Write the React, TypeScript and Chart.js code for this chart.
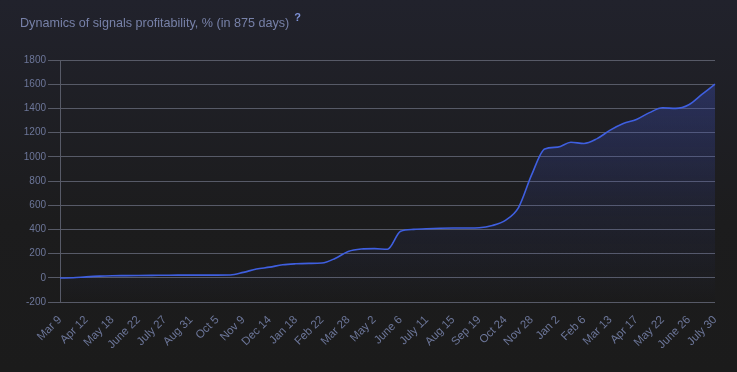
import React, { useEffect, useRef } from "react";
import { Chart, registerables } from "chart.js";

Chart.register(...registerables);

// Date labels: even entries are the axis tick labels, odd entries are mid-period points
const dates = [
  "Mar 9", "Mar 26", "Apr 12", "Apr 30", "May 18", "June 4", "June 22", "July 9",
  "July 27", "Aug 13", "Aug 31", "Sep 17", "Oct 5", "Oct 22", "Nov 9", "Nov 26",
  "Dec 14", "Dec 31", "Jan 18", "Feb 4", "Feb 22", "Mar 11", "Mar 28", "Apr 14",
  "May 2", "May 19", "June 6", "June 23", "July 11", "July 28", "Aug 15", "Sep 1",
  "Sep 19", "Oct 6", "Oct 24", "Nov 10", "Nov 28", "Dec 15", "Jan 2", "Jan 19",
  "Feb 6", "Feb 23", "Mar 13", "Mar 30", "Apr 17", "May 4", "May 22", "June 8",
  "June 26", "July 13", "July 30",
];

// Profitability, %
const profit = [
  -2, 0, 8, 14, 17, 18, 19, 20,
  21, 22, 22, 22, 22, 23, 45, 72,
  88, 108, 116, 119, 122, 160, 218, 238,
  241, 236, 384, 400, 405, 409, 411, 412,
  414, 432, 475, 580, 850, 1065, 1080, 1120,
  1110, 1150, 1220, 1275, 1308, 1365, 1405, 1400,
  1430, 1515, 1600,
];

const yMin = -200;
const yMax = 1800;
const yStep = 200;

const TICK_COLOR = "#6c7699";
const GRID_COLOR = "#575a67";
const FONT_FAMILY = "'Liberation Sans', Arial, sans-serif";

export default function App() {
  const ref = useRef<HTMLCanvasElement>(null);

  useEffect(() => {
    document.body.style.margin = "0";
    document.body.style.background = "linear-gradient(to bottom, #21222c 0%, #1c1c1d 60%, #1b1b1b 100%)";
    document.body.style.minHeight = "372px";
    const canvas = ref.current!;
    const chart = new Chart(canvas, {
      type: "line",
      data: {
        labels: dates,
        datasets: [
          {
            data: profit,
            borderColor: "#3f5fe0",
            borderWidth: 1.6,
            pointRadius: 0,
            pointHoverRadius: 0,
            cubicInterpolationMode: "monotone",
            fill: "start",
            backgroundColor: (c: any) => {
              const ch = c.chart;
              const area = ch.chartArea;
              if (!area) return "rgba(0,0,0,0)";
              const g = ch.ctx.createLinearGradient(0, area.top, 0, area.bottom);
              g.addColorStop(0, "rgba(62,80,190,0.40)");
              g.addColorStop(0.6, "rgba(62,80,190,0.12)");
              g.addColorStop(1, "rgba(62,80,190,0.0)");
              return g;
            },
          },
        ],
      },
      options: {
        animation: false,
        responsive: false,
        maintainAspectRatio: false,
        layout: { padding: { top: 60, right: 22, left: 0, bottom: 0 } },
        plugins: {
          legend: { display: false },
          tooltip: { enabled: false },
          title: { display: false },
        },
        scales: {
          x: {
            grid: { display: false, drawTicks: true, tickLength: 8 },
            border: { display: false },
            ticks: {
              autoSkip: false,
              maxRotation: 45,
              minRotation: 45,
              padding: 3,
              color: TICK_COLOR,
              font: { family: FONT_FAMILY, size: 11.5 },
              callback: (_v: any, i: number) => (i % 2 === 0 ? dates[i] : null),
            },
            afterFit: (s: any) => {
              s.height = 70;
            },
          },
          y: {
            min: yMin,
            max: yMax,
            ticks: {
              stepSize: yStep,
              padding: 2,
              color: TICK_COLOR,
              font: { family: FONT_FAMILY, size: 10 },
              callback: (v: any) => String(v),
            },
            grid: { color: GRID_COLOR, tickLength: 12, lineWidth: 1 },
            border: { color: GRID_COLOR, width: 1 },
            afterFit: (s: any) => {
              s.width = 60;
            },
          },
        },
      },
    });
    return () => chart.destroy();
  }, []);

  return (
    <div style={{ position: "relative", width: 737, height: 372 }}>
      <canvas ref={ref} width={737} height={372} style={{ display: "block", width: 737, height: 372 }} />
      <div
        style={{
          position: "absolute",
          left: 20,
          top: 15,
          fontFamily: FONT_FAMILY,
          fontSize: 12.6,
          color: "#7781a8",
          whiteSpace: "nowrap",
          lineHeight: "16px",
        }}
      >
        Dynamics of signals profitability, % (in 875 days)
        <span
          style={{
            position: "relative",
            top: -6,
            marginLeft: 5,
            fontSize: 11,
            fontWeight: "bold",
            color: "#7f93d9",
          }}
        >
          ?
        </span>
      </div>
    </div>
  );
}
